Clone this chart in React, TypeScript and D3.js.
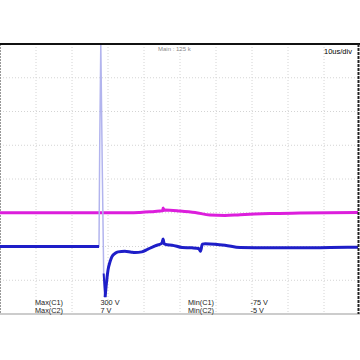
import React from "react";
import * as d3 from "d3";

// Time axis: 10 µs/div, 10 divisions
const TIME_DIVS = 10;
const US_PER_DIV = 10;
// Vertical: 8 divisions, 50 V/div for both channels
const VOLT_DIVS = 8;
const V_PER_DIV = 50;

// Channel 1 (blue) — time in µs, volts
const c1Time = [0, 27.5, 27.7, 28.0, 28.4, 28.8, 29.2, 29.6, 30.0, 30.6, 31.1, 32.0, 32.8, 34.7, 36.5, 37.5, 39.4, 41.1, 43.1, 45.0, 45.3, 45.6, 46.4, 47.8, 50.6, 53.3, 55.2, 55.7, 56.2, 57.0, 59.7, 62.5, 66.7, 75, 83.3, 91.7, 100];
const c1Volts = [0, 0, 150, 300, 120, -40, -75, -52, -35, -22, -15, -10, -8, -7, -8.5, -9, -8, -4, 1, 5, 11, 4, 2.5, 2, -1.5, -2, -3, -7, 3.5, 4, 3.5, 2, -1.5, -2, -2, -1.5, -1];

// Channel 2 (magenta)
const c2Time = [0, 36.1, 38.9, 41.7, 44.4, 45.2, 45.3, 45.5, 45.8, 50.0, 54.2, 58.3, 62.5, 66.7, 75, 83.3, 100];
const c2Volts = [0, 0, 0.5, 1.4, 2.6, 3.3, 7, 3.5, 4, 2.6, 0.4, -3.3, -4, -2.8, -1.2, -0.5, 0.4];

// Readouts
const readLabels = ["Max(C1)", "Max(C2)"];
const readValues = ["300 V", "7 V"];
const minLabels = ["Min(C1)", "Min(C2)"];
const minValues = ["-75 V", "-5 V"];
const topLabel = "Main : 125 k";
const timebaseLabel = "10us/div";

const W = 360;
const H = 360;
const left = 0;
const right = 358;
const top = 44;
const bottom = 314;

type P = { t: number; v: number };

export default function App() {
  const x = d3.scaleLinear().domain([0, TIME_DIVS * US_PER_DIV]).range([left, 360]);
  const y1 = d3.scaleLinear().domain([-2 * V_PER_DIV, 6 * V_PER_DIV]).range([bottom, top]);
  const y2 = d3.scaleLinear().domain([-3 * V_PER_DIV, 5 * V_PER_DIV]).range([bottom, top]);

  const c1: P[] = c1Time.map((t, i) => ({ t, v: c1Volts[i] }));
  const c2: P[] = c2Time.map((t, i) => ({ t, v: c2Volts[i] }));

  const lineAll1 = d3.line<P>().x(d => x(d.t)).y(d => y1(d.v));
  const lineBlue = d3
    .line<P>()
    .x(d => x(d.t))
    .y(d => y1(d.v))
    .curve(d3.curveMonotoneX);
  const line2 = d3.line<P>().x(d => x(d.t)).y(d => y2(d.v)).curve(d3.curveMonotoneX);

  const pre = c1.filter(d => d.t <= 27.5);
  const post = c1.filter(d => d.t >= 29.2);
  const fall = c1.filter(d => d.t >= 28.8 && d.t <= 29.2);

  const vGrid = d3.range(1, TIME_DIVS).map(i => x(i * US_PER_DIV));
  const hGrid = d3.range(1, VOLT_DIVS).map(i => top + ((bottom - top) / VOLT_DIVS) * i);

  const font = "'Liberation Sans', Arial, sans-serif";

  return (
    <svg
      width={W}
      height={H}
      style={{ position: "absolute", left: 0, top: 0, display: "block", background: "#fff" }}
    >
      <defs>
        <clipPath id="plot">
          <rect x={left} y={top} width={right - left} height={bottom - top} />
        </clipPath>
      </defs>
      <rect x={0} y={0} width={W} height={H} fill="#fff" />
      {vGrid.map((gx, i) => (
        <line key={"v" + i} x1={gx} x2={gx} y1={top} y2={bottom} stroke="#d4d4d4" strokeWidth={1} strokeDasharray="1,2" />
      ))}
      {hGrid.map((gy, i) => (
        <line key={"h" + i} x1={left} x2={right} y1={gy} y2={gy} stroke="#d4d4d4" strokeWidth={1} strokeDasharray="1,2" />
      ))}
      <line x1={0.5} x2={0.5} y1={top} y2={bottom} stroke="#999" strokeWidth={1} strokeDasharray="2,1" />

      <g clipPath="url(#plot)">
        <path d={line2(c2) || ""} fill="none" stroke="#dc1edc" strokeWidth={3} strokeLinejoin="round" />
        <path d={lineAll1(c1) || ""} fill="none" stroke="#b2b4ee" strokeWidth={1.5} />
        <path d={lineBlue(pre) || ""} fill="none" stroke="#1e1ec8" strokeWidth={3} />
        <path d={lineAll1(fall) || ""} fill="none" stroke="#1e1ec8" strokeWidth={2} />
        <path d={lineBlue(post) || ""} fill="none" stroke="#1e1ec8" strokeWidth={3} strokeLinejoin="round" />
      </g>

      <line x1={0} x2={360} y1={top} y2={top} stroke="#111" strokeWidth={2} />
      <line x1={0} x2={360} y1={bottom} y2={bottom} stroke="#999" strokeWidth={1} />
      <line x1={right + 0.5} x2={right + 0.5} y1={top} y2={bottom} stroke="#222" strokeWidth={2} strokeDasharray="3,1" />

      <text x={158} y={51} fontFamily={font} fontSize={6} fill="#8a8a8a">{topLabel}</text>
      <text x={324} y={54} fontFamily={font} fontSize={7.5} fill="#000">{timebaseLabel}</text>

      {readLabels.map((s, i) => (
        <text key={"ml" + i} x={35} y={305 + i * 7.5} fontFamily={font} fontSize={7.3} fill="#222">{s}</text>
      ))}
      {readValues.map((s, i) => (
        <text key={"mv" + i} x={100.5} y={305 + i * 7.5} fontFamily={font} fontSize={7.3} fill="#222">{s}</text>
      ))}
      {minLabels.map((s, i) => (
        <text key={"nl" + i} x={188} y={305 + i * 7.5} fontFamily={font} fontSize={7.3} fill="#222">{s}</text>
      ))}
      {minValues.map((s, i) => (
        <text key={"nv" + i} x={250.5} y={305 + i * 7.5} fontFamily={font} fontSize={7.3} fill="#222">{s}</text>
      ))}
    </svg>
  );
}
